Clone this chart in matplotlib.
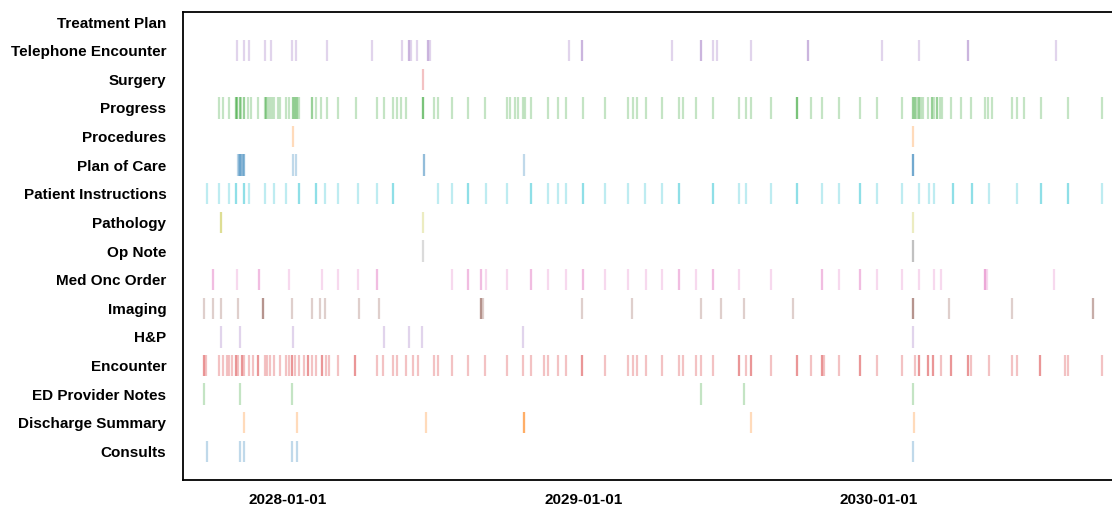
import numpy as np
import matplotlib
matplotlib.use("Agg")
import matplotlib.pyplot as plt
import matplotlib.dates as mdates

# note categories, bottom to top
categories = ["Consults", "Discharge Summary", "ED Provider Notes", "Encounter", "H&P",
              "Imaging", "Med Onc Order", "Op Note", "Pathology", "Patient Instructions",
              "Plan of Care", "Procedures", "Progress", "Surgery", "Telephone Encounter",
              "Treatment Plan"]

base_date = np.datetime64("2028-01-01")

# event days, counted from base_date (repeated values = several notes that day)
consults = [-99, -59, -54, 6, 12, 774]
discharge_summary = [-54, 12, 172, 293, 293, 293, 574, 775]
ed_provider_notes = [-103, -59, 6, 512, 565, 774]
encounter = [-103, -103, -100, -85, -80, -75, -72, -68, -63, -63, -61, -56, -56, -53, -48,
             -42, -36, -36, -28, -25, -22, -16, -9, -2, 2, 6, 6, 9, 14, 21, 26, 26, 31, 36,
             43, 43, 48, 51, 63, 84, 84, 111, 118, 131, 136, 147, 156, 162, 181, 187, 204,
             224, 244, 272, 291, 301, 318, 322, 335, 345, 365, 365, 393, 422, 428, 433, 444,
             464, 485, 490, 506, 512, 527, 559, 559, 568, 574, 574, 599, 631, 631, 648, 661,
             661, 664, 682, 708, 708, 729, 760, 777, 781, 781, 793, 793, 799, 799, 809, 821,
             821, 842, 842, 846, 868, 897, 903, 931, 931, 962, 966, 1008]
h_and_p = [-82, -59, 7, 120, 150, 167, 292, 774]
imaging = [-103, -92, -82, -61, -30, -30, -30, 6, 30, 41, 47, 89, 113, 240, 240, 240, 242,
           364, 427, 512, 537, 565, 626, 774, 774, 774, 819, 897, 997, 997]
med_onc_order = [-92, -92, -62, -35, -35, 2, 43, 63, 87, 111, 111, 204, 224, 224, 240, 240,
                 246, 272, 301, 301, 322, 345, 366, 366, 393, 422, 444, 464, 485, 485, 506,
                 527, 527, 559, 599, 661, 661, 682, 708, 708, 729, 760, 781, 800, 809, 863,
                 863, 863, 866, 948]
op_note = [168, 774, 774]
pathology = [-82, -82, 168, 774]
patient_instructions = [-99, -85, -72, -64, -64, -54, -54, -48, -28, -16, -2, 15, 15, 35,
                        35, 47, 63, 87, 111, 131, 131, 187, 204, 224, 224, 246, 272, 301,
                        301, 322, 335, 345, 366, 366, 393, 422, 443, 464, 485, 485, 527, 527,
                        559, 568, 599, 631, 631, 661, 682, 708, 708, 729, 760, 781, 794, 800,
                        823, 823, 847, 847, 868, 903, 933, 933, 966, 966, 1008]
plan_of_care = [-61, -60, -59, -58, -57, -56, -55, -54, -53, 7, 11, 169, 169, 293, 774, 774, 774]
procedures = [7, 774]
progress = [-85, -79, -72, -64, -64, -62, -62, -59, -59, -57, -54, -54, -49, -45, -36, -28,
            -26, -26, -24, -21, -19, -16, -12, -9, -2, 2, 7, 7, 10, 10, 12, 12, 15, 30, 30,
            35, 42, 49, 63, 85, 111, 120, 131, 136, 141, 147, 168, 168, 168, 181, 187, 204,
            224, 245, 272, 276, 282, 286, 291, 294, 301, 322, 335, 345, 366, 393, 422, 428,
            433, 444, 464, 484, 490, 506, 527, 559, 568, 574, 599, 631, 631, 631, 648, 661,
            682, 708, 729, 760, 774, 774, 777, 777, 779, 782, 782, 784, 787, 793, 797, 797,
            800, 804, 804, 808, 810, 821, 834, 846, 863, 867, 872, 897, 903, 912, 933, 966,
            1008]
surgery = [168]
telephone_encounter = [-62, -53, -48, -28, -20, 6, 11, 49, 105, 142, 151, 151, 153, 161, 174,
                       174, 177, 349, 364, 364, 476, 512, 512, 527, 532, 574, 644, 644, 736,
                       781, 842, 842, 951]
treatment_plan = []

series = [consults, discharge_summary, ed_provider_notes, encounter, h_and_p, imaging,
          med_onc_order, op_note, pathology, patient_instructions, plan_of_care, procedures,
          progress, surgery, telephone_encounter, treatment_plan]

plt.rcParams['font.family'] = ['Liberation Sans', 'DejaVu Sans']

fig = plt.figure(figsize=(11.12, 5.08), dpi=100)
# the right spine falls just outside the picture, as in the original
ax = fig.add_axes([0.1646, 0.0551, 0.8381, 0.9213])

colors = plt.rcParams['axes.prop_cycle'].by_key()['color']
for i, days in enumerate(series):
    if len(days) == 0:
        continue
    dates = mdates.date2num(base_date + np.array(days, dtype="timedelta64[D]"))
    ax.eventplot(dates, lineoffsets=i, linelengths=0.75, linewidths=1.6,
                 colors=colors[i % 10], alpha=0.28)

ax.set_yticks(range(len(categories)))
ax.set_yticklabels(categories, fontweight='bold', fontsize=11)
ax.set_ylim(-1, 15.35)

xmin = mdates.date2num(base_date + np.timedelta64(-129, "D"))
xmax = mdates.date2num(base_date + np.timedelta64(1024, "D"))
ax.set_xlim(xmin, xmax)
ax.xaxis.set_major_locator(mdates.YearLocator())
ax.xaxis.set_major_formatter(mdates.DateFormatter("%Y-%m-%d"))
for lab in ax.get_xticklabels():
    lab.set_fontweight('bold')
    lab.set_fontsize(11)

ax.tick_params(axis='x', length=0, pad=9.5)
ax.tick_params(axis='y', length=0, pad=12)
for s in ax.spines.values():
    s.set_linewidth(1.3)

fig.savefig("out.png", dpi=100)
